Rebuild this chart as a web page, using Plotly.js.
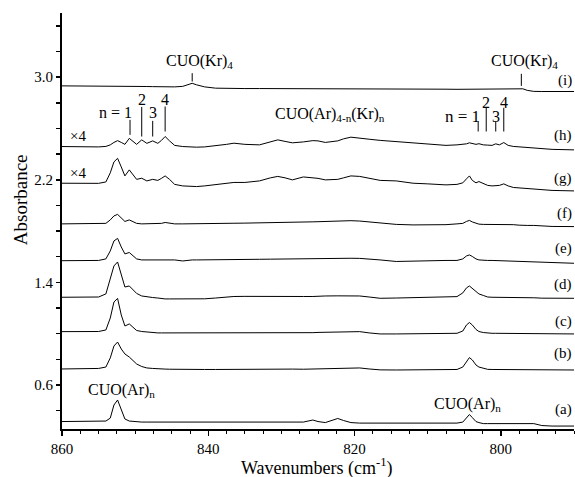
<!DOCTYPE html>
<html>
<head>
<meta charset="utf-8">
<script src="https://cdn.plot.ly/plotly-3.0.1.min.js"></script>
<style>html,body{margin:0;padding:0;background:#fff;}#chart{width:575px;height:477px;}</style>
</head>
<body>
<div id="chart"></div>
<script>
// Wavenumber grid (cm^-1)
const wavenumbers = [860, 857, 855, 854, 853.4, 852.9, 852.4, 851.9, 851.4, 850.8,
  850.2, 849.8, 849.1, 848.4, 847.6, 846.9, 846.4, 845.9, 845.3, 844.6,
  843.5, 842.7, 842.2, 841.6, 840.5, 839, 837.5, 836.5, 835, 833,
  831.5, 830.5, 829.5, 828.5, 827, 825.7, 825, 824, 822.3, 821.5,
  820.5, 819.3, 818, 816.5, 814.3, 812, 810, 807.5, 806, 805.2,
  804.7, 804.3, 803.9, 803.4, 803.0, 802.4, 801.8, 801.2, 800.7, 800.2,
  799.6, 799.0, 798.3, 797.5, 797.0, 796.4, 795.5, 794.4, 793, 790];

// Stacked absorbance spectra (offset as plotted)
const specA = [0.315, 0.315, 0.315, 0.319, 0.342, 0.444, 0.483, 0.405, 0.335, 0.319,
  0.315, 0.311, 0.311, 0.311, 0.311, 0.311, 0.311, 0.311, 0.311, 0.311,
  0.311, 0.308, 0.307, 0.307, 0.306, 0.307, 0.308, 0.307, 0.307, 0.306,
  0.307, 0.308, 0.307, 0.307, 0.311, 0.327, 0.315, 0.307, 0.339, 0.323,
  0.307, 0.303, 0.303, 0.303, 0.303, 0.303, 0.303, 0.303, 0.303, 0.311,
  0.342, 0.370, 0.346, 0.315, 0.307, 0.299, 0.299, 0.299, 0.299, 0.299,
  0.299, 0.299, 0.299, 0.299, 0.299, 0.299, 0.299, 0.284, 0.280, 0.280];
const specB = [0.725, 0.725, 0.729, 0.740, 0.811, 0.904, 0.935, 0.881, 0.842, 0.818,
  0.787, 0.764, 0.744, 0.733, 0.729, 0.725, 0.725, 0.724, 0.723, 0.722,
  0.721, 0.721, 0.722, 0.721, 0.721, 0.721, 0.722, 0.721, 0.721, 0.722,
  0.721, 0.722, 0.723, 0.724, 0.723, 0.725, 0.727, 0.729, 0.731, 0.733,
  0.735, 0.733, 0.725, 0.718, 0.717, 0.717, 0.718, 0.719, 0.721, 0.740,
  0.787, 0.814, 0.795, 0.756, 0.740, 0.729, 0.722, 0.721, 0.721, 0.721,
  0.721, 0.721, 0.721, 0.721, 0.721, 0.721, 0.720, 0.717, 0.717, 0.717];
const specC = [1.016, 1.017, 1.017, 1.029, 1.122, 1.247, 1.275, 1.146, 1.060, 1.076,
  1.045, 1.025, 1.017, 1.013, 1.006, 1.006, 1.006, 1.006, 1.006, 1.006,
  1.006, 1.004, 1.003, 1.003, 1.003, 1.003, 1.004, 1.003, 1.003, 1.003,
  1.004, 1.003, 1.003, 1.004, 1.006, 1.008, 1.010, 1.012, 1.013, 1.014,
  1.016, 1.016, 1.006, 0.998, 0.998, 0.999, 1.000, 1.002, 1.003, 1.021,
  1.068, 1.087, 1.068, 1.033, 1.017, 1.009, 1.004, 1.003, 1.003, 1.003,
  1.003, 1.003, 1.003, 1.003, 1.003, 1.002, 1.001, 0.998, 0.998, 0.998];
const specD = [1.284, 1.284, 1.286, 1.310, 1.419, 1.528, 1.559, 1.450, 1.364, 1.372,
  1.341, 1.314, 1.294, 1.286, 1.282, 1.278, 1.273, 1.271, 1.271, 1.271,
  1.271, 1.271, 1.272, 1.271, 1.272, 1.278, 1.286, 1.290, 1.291, 1.292,
  1.293, 1.294, 1.294, 1.293, 1.290, 1.290, 1.293, 1.294, 1.295, 1.296,
  1.297, 1.294, 1.286, 1.276, 1.278, 1.281, 1.282, 1.282, 1.289, 1.318,
  1.357, 1.372, 1.353, 1.325, 1.310, 1.298, 1.286, 1.284, 1.284, 1.284,
  1.284, 1.284, 1.284, 1.284, 1.283, 1.282, 1.280, 1.277, 1.276, 1.276];
const specE = [1.569, 1.569, 1.571, 1.583, 1.645, 1.723, 1.743, 1.676, 1.622, 1.633,
  1.602, 1.583, 1.575, 1.575, 1.575, 1.576, 1.577, 1.579, 1.577, 1.575,
  1.567, 1.574, 1.575, 1.575, 1.576, 1.580, 1.580, 1.580, 1.580, 1.580,
  1.581, 1.582, 1.584, 1.585, 1.587, 1.587, 1.587, 1.587, 1.587, 1.588,
  1.588, 1.587, 1.579, 1.575, 1.563, 1.567, 1.571, 1.571, 1.571, 1.583,
  1.606, 1.614, 1.602, 1.583, 1.575, 1.571, 1.571, 1.571, 1.570, 1.569,
  1.568, 1.567, 1.565, 1.561, 1.559, 1.559, 1.558, 1.553, 1.550, 1.549];
const specF = [1.856, 1.856, 1.856, 1.860, 1.887, 1.918, 1.930, 1.899, 1.875, 1.887,
  1.871, 1.860, 1.856, 1.856, 1.856, 1.856, 1.860, 1.867, 1.860, 1.856,
  1.856, 1.856, 1.856, 1.856, 1.856, 1.859, 1.861, 1.861, 1.862, 1.863,
  1.865, 1.867, 1.868, 1.869, 1.871, 1.872, 1.873, 1.875, 1.876, 1.878,
  1.881, 1.878, 1.871, 1.864, 1.852, 1.848, 1.848, 1.850, 1.856, 1.860,
  1.875, 1.883, 1.871, 1.860, 1.854, 1.852, 1.852, 1.852, 1.853, 1.855,
  1.854, 1.852, 1.850, 1.846, 1.844, 1.844, 1.844, 1.838, 1.836, 1.835];
const specG = [2.173, 2.172, 2.172, 2.183, 2.254, 2.339, 2.367, 2.300, 2.230, 2.277,
  2.234, 2.203, 2.212, 2.191, 2.203, 2.195, 2.211, 2.230, 2.203, 2.164,
  2.152, 2.148, 2.147, 2.147, 2.152, 2.160, 2.172, 2.179, 2.179, 2.191,
  2.215, 2.226, 2.215, 2.199, 2.222, 2.215, 2.211, 2.199, 2.203, 2.215,
  2.230, 2.226, 2.211, 2.195, 2.191, 2.173, 2.168, 2.160, 2.164, 2.176,
  2.207, 2.230, 2.195, 2.176, 2.186, 2.168, 2.156, 2.152, 2.152, 2.156,
  2.168, 2.152, 2.140, 2.137, 2.133, 2.129, 2.125, 2.121, 2.117, 2.113];
const specH = [2.459, 2.456, 2.456, 2.460, 2.472, 2.491, 2.505, 2.491, 2.476, 2.523,
  2.495, 2.476, 2.511, 2.484, 2.503, 2.484, 2.507, 2.537, 2.503, 2.468,
  2.459, 2.456, 2.454, 2.454, 2.456, 2.464, 2.476, 2.485, 2.476, 2.472,
  2.495, 2.511, 2.499, 2.488, 2.495, 2.505, 2.503, 2.491, 2.503, 2.519,
  2.532, 2.527, 2.516, 2.507, 2.498, 2.488, 2.476, 2.468, 2.472, 2.476,
  2.480, 2.488, 2.484, 2.476, 2.481, 2.472, 2.470, 2.468, 2.480, 2.472,
  2.490, 2.468, 2.460, 2.456, 2.454, 2.453, 2.449, 2.445, 2.437, 2.433];
const specI = [2.932, 2.932, 2.930, 2.928, 2.928, 2.928, 2.928, 2.928, 2.928, 2.928,
  2.928, 2.928, 2.927, 2.927, 2.926, 2.925, 2.924, 2.924, 2.924, 2.924,
  2.928, 2.944, 2.952, 2.940, 2.924, 2.914, 2.911, 2.911, 2.911, 2.911,
  2.911, 2.911, 2.910, 2.910, 2.906, 2.906, 2.906, 2.906, 2.906, 2.906,
  2.906, 2.906, 2.906, 2.906, 2.906, 2.906, 2.906, 2.906, 2.905, 2.905,
  2.905, 2.905, 2.905, 2.905, 2.905, 2.905, 2.905, 2.905, 2.905, 2.905,
  2.905, 2.905, 2.905, 2.905, 2.909, 2.897, 2.889, 2.888, 2.888, 2.888];

const spectra = [specA, specB, specC, specD, specE, specF, specG, specH, specI];
const traceLabels = ['(a)', '(b)', '(c)', '(d)', '(e)', '(f)', '(g)', '(h)', '(i)'];
const traceLabelY = [0.410, 0.847, 1.094, 1.380, 1.661, 1.939, 2.212, 2.545, 2.974];

// Band assignment markers
const nLeftX = [850.7, 849.1, 847.6, 845.9];
const nLeftTop = [2.667, 2.768, 2.659, 2.771];
const nLeftBottom = [2.550, 2.537, 2.537, 2.576];
const nRightX = [803.1, 802.0, 800.7, 799.6];
const nRightTop = [2.654, 2.761, 2.654, 2.761];
const nRightBottom = [2.576, 2.576, 2.576, 2.576];
const krX = [842.2, 797.2];
const krTop = [3.031, 3.026];
const krBottom = [2.966, 2.932];

const FONT = '"Liberation Serif", "Times New Roman", serif';

const traces = spectra.map((s, i) => ({
  x: wavenumbers, y: s, type: 'scatter', mode: 'lines',
  line: {color: '#000', width: 1}, hoverinfo: 'skip', name: traceLabels[i]
}));

const shapes = [];
function addSeg(xs, tops, bots) {
  xs.forEach((x, i) => shapes.push({type: 'line', xref: 'x', yref: 'y',
    x0: x, x1: x, y0: bots[i], y1: tops[i], line: {color: '#000', width: 1}}));
}
addSeg(nLeftX, nLeftTop, nLeftBottom);
addSeg(nRightX, nRightTop, nRightBottom);
addSeg(krX, krTop, krBottom);

const ann = [];
function txt(x, y, text, size, xanchor, xref, yref, angle) {
  ann.push({x: x, y: y, xref: xref || 'x', yref: yref || 'y', text: text, showarrow: false,
    textangle: angle || 0,
    xanchor: xanchor || 'center', yanchor: 'middle', font: {family: FONT, size: size || 14, color: '#000'}});
}
traceLabels.forEach((t, i) => txt(1, traceLabelY[i], t, 15, 'right', 'paper'));
txt(841.2, 3.122, 'CUO(Kr)<sub>4</sub>', 16);
txt(796.8, 3.122, 'CUO(Kr)<sub>4</sub>', 16);
txt(823.4, 2.706, 'CUO(Ar)<sub>4-n</sub>(Kr)<sub>n</sub>', 16);
txt(851.8, 0.561, 'CUO(Ar)<sub>n</sub>', 16);
txt(804.6, 0.449, 'CUO(Ar)<sub>n</sub>', 16);
txt(859.2, 2.542, '×4', 15, 'left');
txt(859.2, 2.256, '×4', 15, 'left');
txt(850.2, 2.722, 'n = 1', 16, 'right');
txt(nLeftX[1], 2.828, '2', 16);
txt(nLeftX[2], 2.724, '3', 16);
txt(nLeftX[3], 2.828, '4', 16);
txt(802.6, 2.693, 'n = 1', 17, 'right');
txt(nRightX[1], 2.802, '2', 16);
txt(nRightX[2], 2.693, '3', 16);
txt(nRightX[3], 2.802, '4', 16);
// axis titles drawn as annotations
txt(0.498, -0.092, 'Wavenumbers (cm<sup>-1</sup>)', 18, 'center', 'paper', 'paper');
txt(-0.082, 0.55, 'Absorbance', 19, 'center', 'paper', 'paper', -90);

const layout = {
  width: 575, height: 477,
  margin: {l: 62, r: 1, t: 13, b: 48},
  paper_bgcolor: '#fff', plot_bgcolor: '#fff',
  showlegend: false,
  font: {family: FONT, size: 15, color: '#000'},
  xaxis: {
    range: [860, 790], showgrid: false, zeroline: false,
    showline: true, linecolor: '#000', linewidth: 2,
    tickmode: 'linear', tick0: 860, dtick: 20,
    ticks: 'outside', ticklen: 5, tickwidth: 1.5, tickcolor: '#000',
    minor: {dtick: 2.5, tick0: 860, ticks: 'outside', ticklen: 3, tickwidth: 1, tickcolor: '#000', showgrid: false},
    tickfont: {family: FONT, size: 15}
  },
  yaxis: {
    range: [0.257, 3.5], showgrid: false, zeroline: false,
    showline: true, linecolor: '#000', linewidth: 2,
    tickmode: 'linear', tick0: 0.6, dtick: 0.8, tickformat: '.1f',
    ticks: 'outside', ticklen: 4, tickwidth: 1.5, tickcolor: '#000',
    minor: {dtick: 0.2, tick0: 0.6, ticks: 'outside', ticklen: 4, tickwidth: 1.5, tickcolor: '#000', showgrid: false},
    tickfont: {family: FONT, size: 15}
  },
  shapes: shapes,
  annotations: ann
};

Plotly.newPlot('chart', traces, layout, {displayModeBar: false, staticPlot: true});
</script>
</body>
</html>
